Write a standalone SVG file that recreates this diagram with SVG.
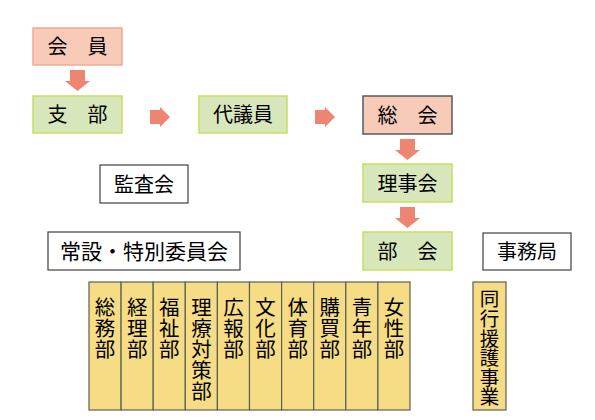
<svg xmlns="http://www.w3.org/2000/svg" width="595" height="420" viewBox="0 0 595 420">
<style>
text{font-family:"Noto Sans CJK JP","Noto Sans",sans-serif;fill:#000;}
.t{font-size:20px;text-anchor:middle;}
.v{font-size:20.5px;text-anchor:middle;}
.pink{fill:#f8cbb8;stroke:#f2a898;stroke-width:1.5;}
.pinkd{fill:#f8cbb8;stroke:#595959;stroke-width:1.5;}
.green{fill:#d8e6bb;stroke:#c8de5c;stroke-width:1.5;}
.white{fill:#fff;stroke:#404040;stroke-width:1.2;}
.gold{fill:#f6dc85;stroke:#5f5f55;stroke-width:1.2;}
.arr{fill:#ee8573;}
</style>
<defs>
<polygon id="da" class="arr" points="5,0 20,0 20,11 25,11 12.5,21 0,11 5,11"/>
<polygon id="ra" class="arr" points="0,3 10,3 10,0 20,10 10,20 10,17 0,17"/>
</defs>
<g id="connectors">
<use href="#da" x="65" y="70"/>
<use href="#ra" x="150" y="107"/>
<use href="#ra" x="315" y="107"/>
<use href="#da" x="395" y="139"/>
<use href="#da" x="395" y="207"/>
</g>
<g id="kaiin"><rect class="pink" x="33" y="28" width="89" height="37"/><text class="t" x="77.5" y="54">会　員</text></g>
<g id="shibu"><rect class="green" x="33" y="96" width="89" height="37"/><text class="t" x="77.5" y="122">支　部</text></g>
<g id="daigiin"><rect class="green" x="199" y="96" width="88" height="37"/><text class="t" x="243" y="122">代議員</text></g>
<g id="soukai"><rect class="pinkd" x="363" y="96" width="89" height="38"/><text class="t" x="407.5" y="122.5">総　会</text></g>
<g id="rijikai"><rect class="green" x="363" y="164" width="89" height="38"/><text class="t" x="407.5" y="190.5">理事会</text></g>
<g id="bukai"><rect class="green" x="363" y="232" width="89" height="38"/><text class="t" x="407.5" y="258.5">部　会</text></g>
<g id="kansakai"><rect class="white" x="100" y="165" width="88" height="38"/><text class="t" x="144" y="191.5">監査会</text></g>
<g id="iinkai"><rect class="white" x="48" y="232" width="192" height="38"/><text class="t" x="144" y="258.5" style="font-size:21px">常設・特別委員会</text></g>
<g id="jimukyoku"><rect class="white" x="483" y="233" width="88" height="37"/><text class="t" x="527" y="259">事務局</text></g>
<g id="doukou"><rect class="gold" x="473" y="282" width="33" height="128"/>
<text class="t" style="font-size:19.5px"><tspan x="489.5" y="305.5">同</tspan><tspan x="489.5" y="325.5">行</tspan><tspan x="489.5" y="345.5">援</tspan><tspan x="489.5" y="365">護</tspan><tspan x="489.5" y="384.5">事</tspan><tspan x="489.5" y="404">業</tspan></text></g>
<g id="c1"><rect class="gold" x="89" y="282" width="32.1" height="128"/><text class="v"><tspan x="105" y="315">総</tspan><tspan x="105" y="336">務</tspan><tspan x="105" y="357">部</tspan></text></g>
<g id="c2"><rect class="gold" x="121.1" y="282" width="32.1" height="128"/><text class="v"><tspan x="137.2" y="315">経</tspan><tspan x="137.2" y="336">理</tspan><tspan x="137.2" y="357">部</tspan></text></g>
<g id="c3"><rect class="gold" x="153.2" y="282" width="32.1" height="128"/><text class="v"><tspan x="169.3" y="315">福</tspan><tspan x="169.3" y="336">祉</tspan><tspan x="169.3" y="357">部</tspan></text></g>
<g id="c4"><rect class="gold" x="185.3" y="282" width="32.1" height="128"/><text class="v"><tspan x="201.4" y="315">理</tspan><tspan x="201.4" y="336">療</tspan><tspan x="201.4" y="357">対</tspan><tspan x="201.4" y="378">策</tspan><tspan x="201.4" y="399">部</tspan></text></g>
<g id="c5"><rect class="gold" x="217.4" y="282" width="32.1" height="128"/><text class="v"><tspan x="233.5" y="315">広</tspan><tspan x="233.5" y="336">報</tspan><tspan x="233.5" y="357">部</tspan></text></g>
<g id="c6"><rect class="gold" x="249.5" y="282" width="32.1" height="128"/><text class="v"><tspan x="265.6" y="315">文</tspan><tspan x="265.6" y="336">化</tspan><tspan x="265.6" y="357">部</tspan></text></g>
<g id="c7"><rect class="gold" x="281.6" y="282" width="32.1" height="128"/><text class="v"><tspan x="297.7" y="315">体</tspan><tspan x="297.7" y="336">育</tspan><tspan x="297.7" y="357">部</tspan></text></g>
<g id="c8"><rect class="gold" x="313.7" y="282" width="32.1" height="128"/><text class="v"><tspan x="329.8" y="315">購</tspan><tspan x="329.8" y="336">買</tspan><tspan x="329.8" y="357">部</tspan></text></g>
<g id="c9"><rect class="gold" x="345.8" y="282" width="32.1" height="128"/><text class="v"><tspan x="361.9" y="315">青</tspan><tspan x="361.9" y="336">年</tspan><tspan x="361.9" y="357">部</tspan></text></g>
<g id="c10"><rect class="gold" x="377.9" y="282" width="32.1" height="128"/><text class="v"><tspan x="394" y="315">女</tspan><tspan x="394" y="336">性</tspan><tspan x="394" y="357">部</tspan></text></g>
</svg>
